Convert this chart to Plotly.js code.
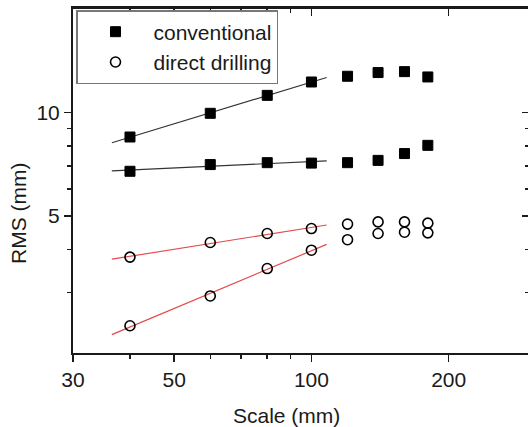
<!DOCTYPE html>
<html>
<head>
<meta charset="utf-8">
<script src="https://cdn.plot.ly/plotly-3.0.1.min.js"></script>
<style>
html, body { margin: 0; padding: 0; overflow: hidden; background: #fff; }
#chart { width: 530px; height: 427px; }
</style>
</head>
<body>
<div id="chart"></div>
<script>
// Data (log-log plot)
const scale = [40, 60, 80, 100, 120, 140, 160, 180];
const conventionalUpper = [8.49, 9.95, 11.22, 12.27, 12.75, 13.07, 13.15, 12.69];
const conventionalLower = [6.75, 7.06, 7.15, 7.13, 7.15, 7.26, 7.60, 8.03];
const directUpper = [3.80, 4.19, 4.45, 4.60, 4.74, 4.81, 4.81, 4.77];
const directLower = [2.40, 2.93, 3.52, 3.98, 4.27, 4.45, 4.49, 4.47];
const fitPointCount = 4;          // power-law fits use the first four scales
const fitSpan = [36.5, 108];      // extent of the fitted lines (mm)
const xTickVals = [30, 50, 100, 200];
const xMinorVals = [40, 60, 70, 80, 90];
const yTickVals = [5, 10];
const yMinorVals = [3, 4, 6, 7, 8, 9];

function powerFit(xs, ys, span) {
  const lx = xs.map(Math.log10), ly = ys.map(Math.log10);
  const n = lx.length;
  const mx = lx.reduce((a, b) => a + b, 0) / n;
  const my = ly.reduce((a, b) => a + b, 0) / n;
  let sxy = 0, sxx = 0;
  for (let i = 0; i < n; i++) { sxy += (lx[i] - mx) * (ly[i] - my); sxx += (lx[i] - mx) ** 2; }
  const b = sxy / sxx, a = my - b * mx;
  return { x: span, y: span.map(v => Math.pow(10, a + b * Math.log10(v))) };
}

const fontFam = 'Liberation Sans, Arial, Helvetica, sans-serif';
const ink = '#1a1a1a';
const fs = 21;

function fitTrace(ys, color) {
  const f = powerFit(scale.slice(0, fitPointCount), ys.slice(0, fitPointCount), fitSpan);
  return { x: f.x, y: f.y, mode: 'lines', type: 'scatter', showlegend: false,
           hoverinfo: 'skip', line: { color: color, width: 1.2 } };
}

const squareMarker = { symbol: 'square', size: 10, color: '#000', line: { color: '#000', width: 1 } };
const circleMarker = { symbol: 'circle-open', size: 10, color: '#000', line: { color: '#000', width: 1.6 } };

const traces = [
  fitTrace(conventionalUpper, '#333333'),
  fitTrace(conventionalLower, '#333333'),
  fitTrace(directUpper, '#e34a4a'),
  fitTrace(directLower, '#e34a4a'),
  { x: scale, y: conventionalUpper, type: 'scatter', mode: 'markers', name: 'conventional',
    legendgroup: 'c', marker: squareMarker },
  { x: scale, y: conventionalLower, type: 'scatter', mode: 'markers', name: 'conventional',
    legendgroup: 'c', showlegend: false, marker: squareMarker },
  { x: scale, y: directUpper, type: 'scatter', mode: 'markers', name: 'direct drilling',
    legendgroup: 'd', marker: circleMarker },
  { x: scale, y: directLower, type: 'scatter', mode: 'markers', name: 'direct drilling',
    legendgroup: 'd', showlegend: false, marker: circleMarker },
  { x: [], y: [], xaxis: 'x2', yaxis: 'y2', type: 'scatter', mode: 'markers', showlegend: false, hoverinfo: 'skip' }
];

const xRange = [Math.log10(30), Math.log10(300)];
const yRange = [Math.log10(2), Math.log10(20)];

const layout = {
  width: 530, height: 427,
  margin: { l: 73, r: 1, t: 9, b: 74 },
  paper_bgcolor: '#fff', plot_bgcolor: '#fff',
  font: { family: fontFam, size: fs, color: ink },
  showlegend: true,
  xaxis: {
    type: 'log', range: xRange, showgrid: false, zeroline: false,
    showline: true, linewidth: 2, linecolor: ink,
    tickmode: 'array', tickvals: xTickVals, ticktext: xTickVals.map(String),
    ticks: 'outside', ticklen: 7, tickwidth: 1.5, tickcolor: ink,
    tickfont: { size: fs, color: ink },
    minor: { tickmode: 'array', tickvals: xMinorVals, ticks: 'outside', ticklen: 4, tickwidth: 1.5, tickcolor: ink, showgrid: false }
  },
  xaxis2: {
    type: 'log', range: xRange, overlaying: 'x', side: 'top', showgrid: false, zeroline: false,
    showline: true, linewidth: 3, linecolor: ink, showticklabels: false,
    tickmode: 'array', tickvals: xTickVals,
    ticks: 'inside', ticklen: 7, tickwidth: 1.5, tickcolor: ink,
    minor: { tickmode: 'array', tickvals: xMinorVals, ticks: 'inside', ticklen: 4, tickwidth: 1.5, tickcolor: ink, showgrid: false }
  },
  yaxis: {
    type: 'log', range: yRange, showgrid: false, zeroline: false,
    showline: true, linewidth: 2, linecolor: ink,
    tickmode: 'array', tickvals: yTickVals, ticktext: yTickVals.map(String),
    ticks: 'outside', ticklen: 7, tickwidth: 1.5, tickcolor: ink,
    tickfont: { size: fs, color: ink },
    minor: { tickmode: 'array', tickvals: yMinorVals, ticks: 'outside', ticklen: 4, tickwidth: 1.5, tickcolor: ink, showgrid: false }
  },
  yaxis2: {
    type: 'log', range: yRange, overlaying: 'y', side: 'right', showgrid: false, zeroline: false,
    showline: true, linewidth: 2, linecolor: ink, showticklabels: false,
    tickmode: 'array', tickvals: yTickVals,
    ticks: 'inside', ticklen: 7, tickwidth: 1.5, tickcolor: ink,
    minor: { tickmode: 'array', tickvals: yMinorVals, ticks: 'inside', ticklen: 4, tickwidth: 1.5, tickcolor: ink, showgrid: false }
  },
  legend: {
    x: 0.0066, y: 0.997, xanchor: 'left', yanchor: 'top',
    bgcolor: '#fff', bordercolor: '#777', borderwidth: 1.5,
    font: { family: fontFam, size: fs, color: ink },
    itemwidth: 66, tracegroupgap: 0
  },
  annotations: [
    { text: 'Scale (mm)', xref: 'paper', yref: 'paper', x: 0.468, y: -0.183,
      xanchor: 'center', yanchor: 'middle', showarrow: false, font: { size: fs, color: ink } },
    { text: 'RMS (mm)', xref: 'paper', yref: 'paper', x: -0.1206, y: 0.404, textangle: -90,
      xanchor: 'center', yanchor: 'middle', showarrow: false, font: { size: fs, color: ink } }
  ]
};

Plotly.newPlot('chart', traces, layout, { displayModeBar: false, staticPlot: true });
</script>
</body>
</html>
